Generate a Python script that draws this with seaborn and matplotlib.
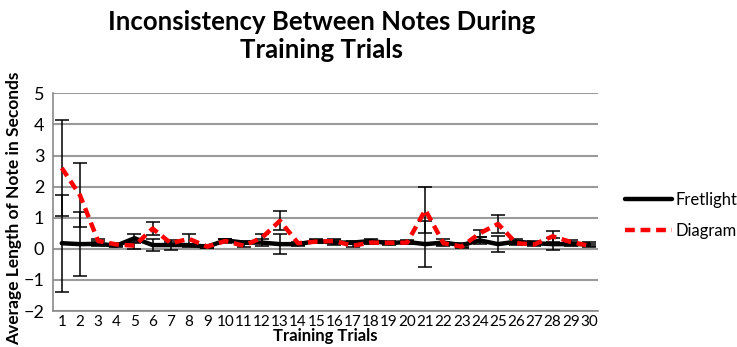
import matplotlib
matplotlib.use("Agg")
import matplotlib.pyplot as plt
import seaborn as sns
import numpy as np
import pandas as pd

trials = list(range(1, 31))
fretlight = [0.18, 0.15, 0.16, 0.10, 0.34, 0.12, 0.12, 0.12, 0.07, 0.27,
             0.20, 0.20, 0.15, 0.15, 0.25, 0.20, 0.20, 0.25, 0.18, 0.22,
             0.15, 0.20, 0.12, 0.27, 0.15, 0.23, 0.18, 0.15, 0.15, 0.15]
fretlight_err = [1.56, 1.03, 0.08, 0.05, 0.12, 0.18, 0.15, 0.05, 0.04, 0.05,
                 0.06, 0.10, 0.32, 0.05, 0.05, 0.07, 0.05, 0.08, 0.05, 0.05,
                 0.75, 0.10, 0.07, 0.12, 0.25, 0.08, 0.07, 0.19, 0.07, 0.07]
diagram = [2.60, 1.72, 0.25, 0.14, 0.10, 0.65, 0.18, 0.32, 0.07, 0.25,
           0.10, 0.35, 0.90, 0.18, 0.23, 0.25, 0.10, 0.20, 0.19, 0.20,
           1.25, 0.18, 0.07, 0.50, 0.80, 0.18, 0.14, 0.40, 0.22, 0.10]
diagram_err = [1.55, 1.03, 0.08, 0.05, 0.10, 0.20, 0.05, 0.16, 0.04, 0.05,
               0.05, 0.12, 0.30, 0.05, 0.05, 0.05, 0.05, 0.05, 0.05, 0.05,
               0.75, 0.05, 0.05, 0.12, 0.30, 0.05, 0.05, 0.17, 0.05, 0.05]
series_names = ["Fretlight", "Diagram"]
title_text = "Inconsistency Between Notes During\nTraining Trials"
xlabel_text = "Training Trials"
ylabel_text = "Average Length of Note in Seconds"
yticks = list(range(-2, 6))

df = pd.DataFrame({
    "trial": trials * 2,
    "value": fretlight + diagram,
    "err": fretlight_err + diagram_err,
    "series": [series_names[0]] * 30 + [series_names[1]] * 30,
})

sns.set_style("white")
plt.rcParams['font.family'] = ['Lato', 'DejaVu Sans']
plt.rcParams['text.color'] = 'black'
plt.rcParams['axes.labelcolor'] = 'black'
plt.rcParams['xtick.labelcolor'] = 'black'
plt.rcParams['ytick.labelcolor'] = 'black'

fig = plt.figure(figsize=(7.37, 3.47), dpi=100)
ax = fig.add_axes([52.7 / 737, 1 - 311 / 347, (598 - 52.7) / 737, (311 - 93.3) / 347])

ax.set_ylim(-2, 5)
ax.set_xlim(0.5, 30.5)
ax.set_yticks(yticks)
ax.yaxis.grid(True, color="#9a9a9a", linewidth=1.5)
ax.set_axisbelow(True)

# error bars
for name in series_names:
    sub = df[df.series == name]
    ax.errorbar(sub.trial, sub.value, yerr=sub.err, fmt="none", ecolor="black",
                elinewidth=1.1, capsize=5, capthick=1.1, zorder=3)

sns.lineplot(data=df, x="trial", y="value", hue="series", style="series",
             palette={"Fretlight": "black", "Diagram": "#ff0000"},
             dashes={"Fretlight": "", "Diagram": (2.2, 1.3)},
             linewidth=3.2, ax=ax, zorder=4, legend=True)

ax.set_xticks(trials)
ax.set_xticks(np.arange(0.5, 31, 1), minor=True)
ax.tick_params(axis="x", which="major", length=0, labelsize=11, pad=3, labelcolor="black")
ax.tick_params(axis="x", which="minor", length=6, direction="inout", color="#8a8a8a", width=1)
ax.tick_params(axis="y", which="major", length=8, direction="inout", color="#8a8a8a",
               width=1, labelsize=13, pad=2, labelcolor="black")

for side in ["top", "right"]:
    ax.spines[side].set_visible(False)
for side in ["left", "bottom"]:
    ax.spines[side].set_color("#8a8a8a")
    ax.spines[side].set_linewidth(1.2)

ax.set_xlabel(xlabel_text, fontsize=12, fontweight="bold", labelpad=-1, color="black")
ax.set_ylabel(ylabel_text, fontsize=12.5, fontweight="bold", labelpad=1, color="black")
ax.yaxis.set_label_coords(-0.057, 0.47)

fig.text(322 / 737, 1 - 36 / 347, title_text, ha="center", va="center",
         fontsize=18.5, fontweight="bold", linespacing=1.2, color="black")

handles, labels = ax.get_legend_handles_labels()
leg = ax.legend(handles, labels, loc="center left", bbox_to_anchor=(1.037, 0.44),
                borderaxespad=0, frameon=False, fontsize=12, handlelength=2.8,
                labelspacing=0.9, handletextpad=0.25, labelcolor="black")
for line in leg.get_lines():
    line.set_linewidth(3.2)

fig.savefig("out.png", dpi=100)
